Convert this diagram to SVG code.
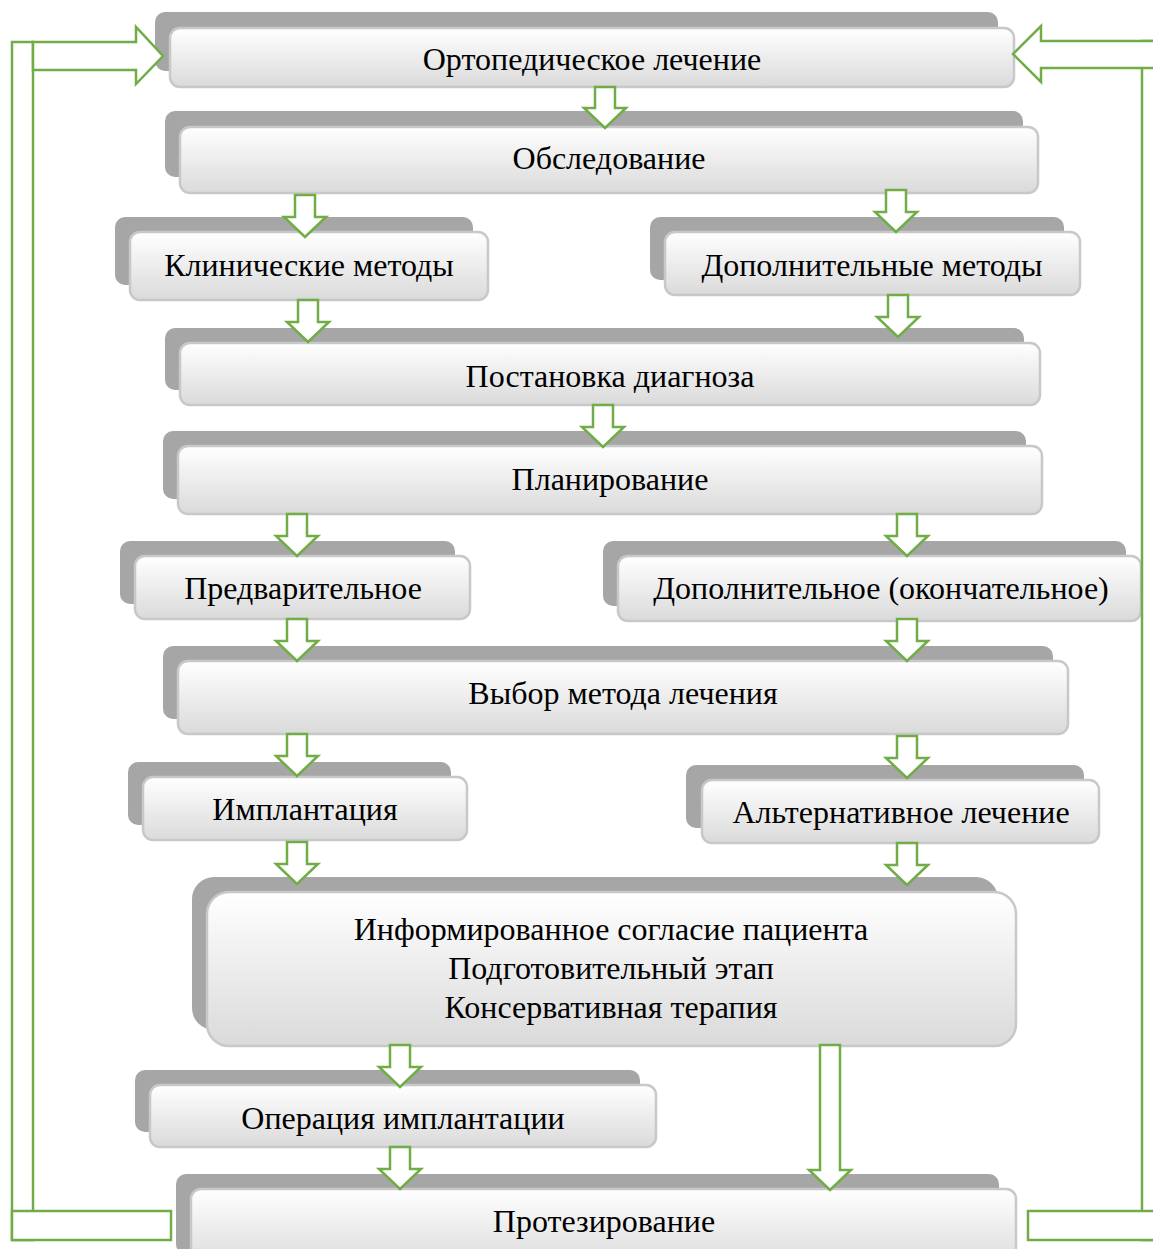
<svg xmlns="http://www.w3.org/2000/svg" width="1153" height="1249" viewBox="0 0 1153 1249">
<defs>
<linearGradient id="g" x1="0" y1="0" x2="0" y2="1">
<stop offset="0" stop-color="#ffffff"/>
<stop offset="1" stop-color="#dadada"/>
</linearGradient>
<style>
.bk{fill:#a6a6a6}
.fr{fill:url(#g);stroke:#c8c8c8;stroke-width:2.5}
.t{font-family:"Liberation Serif","Times New Roman",serif;font-size:32px;fill:#000;text-anchor:middle}
.c{fill:#fff;stroke:#70ad47;stroke-width:2.5;stroke-linejoin:miter}
</style>
</defs>
<rect width="1153" height="1249" fill="#fff"/>
<g id="n1"><rect class="bk" x="155" y="12" width="843" height="59" rx="10"/><rect class="fr" x="170" y="28" width="844" height="59" rx="10"/><text class="t" x="592" y="70">Ортопедическое лечение</text></g>
<g id="n2"><rect class="bk" x="165" y="111" width="858" height="66" rx="10"/><rect class="fr" x="180" y="127" width="858" height="66" rx="10"/><text class="t" x="609" y="169">Обследование</text></g>
<g id="n3"><rect class="bk" x="115" y="217" width="358" height="68" rx="10"/><rect class="fr" x="130" y="232" width="358" height="68" rx="10"/><text class="t" x="309" y="276">Клинические методы</text></g>
<g id="n4"><rect class="bk" x="650" y="217" width="414" height="63" rx="10"/><rect class="fr" x="665" y="232" width="415" height="63" rx="10"/><text class="t" x="872" y="276">Дополнительные методы</text></g>
<g id="n5"><rect class="bk" x="165" y="328" width="859" height="62" rx="10"/><rect class="fr" x="180" y="343" width="860" height="62" rx="10"/><text class="t" x="610" y="387">Постановка диагноза</text></g>
<g id="n6"><rect class="bk" x="163" y="431" width="863" height="68" rx="10"/><rect class="fr" x="178" y="446" width="864" height="68" rx="10"/><text class="t" x="610" y="490">Планирование</text></g>
<g id="n7"><rect class="bk" x="120" y="541" width="335" height="63" rx="10"/><rect class="fr" x="135" y="556" width="335" height="63" rx="10"/><text class="t" x="303" y="599">Предварительное</text></g>
<g id="n8"><rect class="bk" x="603" y="541" width="523" height="65" rx="10"/><rect class="fr" x="618" y="556" width="523" height="65" rx="10"/><text class="t" x="881" y="599">Дополнительное (окончательное)</text></g>
<g id="n9"><rect class="bk" x="163" y="646" width="890" height="73" rx="10"/><rect class="fr" x="178" y="661" width="890" height="73" rx="10"/><text class="t" x="623" y="704">Выбор метода лечения</text></g>
<g id="n10"><rect class="bk" x="128" y="762" width="323" height="63" rx="10"/><rect class="fr" x="143" y="777" width="324" height="63" rx="10"/><text class="t" x="305" y="820">Имплантация</text></g>
<g id="n11"><rect class="bk" x="686" y="765" width="398" height="63" rx="10"/><rect class="fr" x="702" y="780" width="397" height="63" rx="10"/><text class="t" x="901" y="823">Альтернативное лечение</text></g>
<g id="n12"><rect class="bk" x="192" y="877" width="806" height="153" rx="22"/><rect class="fr" x="207" y="892" width="809" height="154" rx="22"/><text class="t" x="611" y="940">Информированное согласие пациента</text><text class="t" x="611" y="979">Подготовительный этап</text><text class="t" x="611" y="1018">Консервативная терапия</text></g>
<g id="n13"><rect class="bk" x="135" y="1070" width="505" height="62" rx="10"/><rect class="fr" x="150" y="1085" width="506" height="62" rx="10"/><text class="t" x="403" y="1129">Операция имплантации</text></g>
<g id="n14"><rect class="bk" x="176" y="1174" width="823" height="80" rx="10"/><rect class="fr" x="191" y="1189" width="825" height="80" rx="10"/><text class="t" x="604" y="1232">Протезирование</text></g>
<g id="connectors">
<rect class="c" x="12" y="42" width="21" height="1198"/>
<path class="c" d="M33,42 H136 V27 L163,56 L136,84 V70 H33 Z"/>
<rect class="c" x="12" y="1211" width="159" height="29"/>
<rect class="c" x="1142" y="41" width="30" height="1199"/>
<path class="c" d="M1160,41 H1041 V26 L1013,54 L1041,82 V68 H1160 Z"/>
<rect class="c" x="1028" y="1211" width="140" height="29"/>
<path class="c" d="M595,87 H615 V108 H626 L605,128 L584,108 H595 Z"/>
<path class="c" d="M295,195 H315 V217 H326 L305,237 L284,217 H295 Z"/>
<path class="c" d="M886,190 H906 V212 H917 L896,232 L875,212 H886 Z"/>
<path class="c" d="M298,300 H318 V322 H329 L308,342 L287,322 H298 Z"/>
<path class="c" d="M888,295 H908 V317 H919 L898,337 L877,317 H888 Z"/>
<path class="c" d="M593,405 H613 V427 H624 L603,447 L582,427 H593 Z"/>
<path class="c" d="M287,514 H307 V536 H318 L297,556 L276,536 H287 Z"/>
<path class="c" d="M897,514 H917 V536 H928 L907,556 L886,536 H897 Z"/>
<path class="c" d="M287,619 H307 V641 H318 L297,661 L276,641 H287 Z"/>
<path class="c" d="M897,619 H917 V641 H928 L907,661 L886,641 H897 Z"/>
<path class="c" d="M287,734 H307 V756 H318 L297,776 L276,756 H287 Z"/>
<path class="c" d="M897,736 H917 V758 H928 L907,778 L886,758 H897 Z"/>
<path class="c" d="M287,842 H307 V864 H318 L297,884 L276,864 H287 Z"/>
<path class="c" d="M897,843 H917 V865 H928 L907,885 L886,865 H897 Z"/>
<path class="c" d="M390,1045 H410 V1067 H421 L400,1087 L379,1067 H390 Z"/>
<path class="c" d="M390,1147 H410 V1169 H421 L400,1189 L379,1169 H390 Z"/>
<path class="c" d="M820,1045 H840 V1170 H851 L830,1190 L809,1170 H820 Z"/>
</g>
</svg>
